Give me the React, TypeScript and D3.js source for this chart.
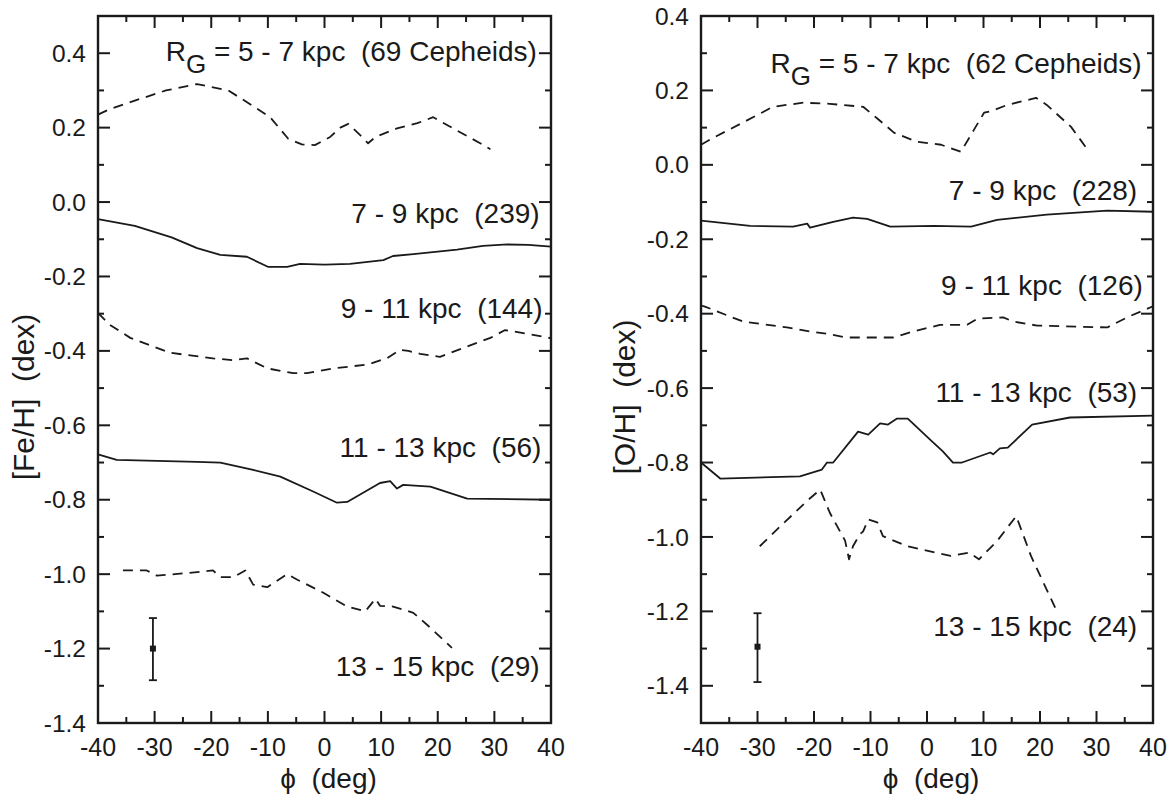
import React from 'react';
import * as d3 from 'd3';

// phi (deg) on x, abundance (dex) on y
const phiMajor = [-40, -30, -20, -10, 0, 10, 20, 30, 40];
const phiMinor = [-35, -25, -15, -5, 5, 15, 25, 35];
const dexMajor = [-1.4, -1.2, -1.0, -0.8, -0.6, -0.4, -0.2, 0.0, 0.2, 0.4];

// [Fe/H] panel
const fe_5_7: [number, number][] = [
  [-40, 0.235], [-37.9, 0.25], [-33, 0.275], [-28, 0.3], [-22.5, 0.317], [-17, 0.3], [-12.3, 0.255],
  [-9.6, 0.228], [-6.4, 0.17], [-4, 0.155], [-1.7, 0.153], [1, 0.175], [2.8, 0.2], [4.2, 0.21],
  [6.3, 0.18], [7.7, 0.158], [9, 0.175], [12.8, 0.198], [16.4, 0.212], [19.2, 0.228], [22.7, 0.198],
  [27.5, 0.158], [29.3, 0.142],
];
const fe_7_9: [number, number][] = [
  [-40, -0.046], [-33.5, -0.064], [-27, -0.095], [-22.5, -0.124], [-18.4, -0.142], [-13.7, -0.147],
  [-10, -0.174], [-6.6, -0.174], [-4.3, -0.166], [0, -0.168], [4.5, -0.166], [10.4, -0.156],
  [12.1, -0.145], [15.7, -0.14], [23.4, -0.128], [28, -0.118], [32.3, -0.114], [36, -0.115], [40, -0.12],
];
const fe_9_11: [number, number][] = [
  [-40, -0.298], [-37.9, -0.33], [-34.3, -0.365], [-27.3, -0.405], [-19.7, -0.42], [-16.1, -0.425],
  [-13.7, -0.42], [-10.1, -0.447], [-5.5, -0.46], [-3.1, -0.46], [1.5, -0.447], [7.5, -0.437],
  [11, -0.42], [13.4, -0.397], [14.8, -0.4], [16.9, -0.408], [20.4, -0.416], [24.5, -0.392],
  [29.3, -0.365], [31.9, -0.344], [35.1, -0.352], [40, -0.366],
];
const fe_11_13: [number, number][] = [
  [-40, -0.678], [-36.7, -0.693], [-22.5, -0.698], [-18.4, -0.7], [-12.6, -0.72], [-7.8, -0.738],
  [-2, -0.778], [2.2, -0.808], [4, -0.806], [9.8, -0.755], [11.6, -0.75], [12.8, -0.77],
  [13.9, -0.76], [18.7, -0.765], [25.2, -0.797], [40, -0.8],
];
const fe_13_15: [number, number][] = [
  [-35.6, -0.99], [-31.4, -0.99], [-29.6, -1.004], [-24.3, -0.997], [-19.7, -0.99], [-18.4, -1.008],
  [-16.1, -1.008], [-14, -0.99], [-12.6, -1.028], [-10.1, -1.035], [-6.6, -1.0], [-4.8, -1.015],
  [-0.2, -1.05], [4, -1.087], [7.2, -1.1], [9, -1.066], [9.8, -1.085], [12.1, -1.087],
  [15.7, -1.104], [18.7, -1.144], [22.5, -1.198],
];
const feError = { phi: -30.3, value: -1.2, lo: -1.285, hi: -1.118 };

// [O/H] panel
const oh_5_7: [number, number][] = [
  [-40, 0.054], [-37.9, 0.072], [-29, 0.142], [-27.3, 0.156], [-21.9, 0.167], [-17.2, 0.164],
  [-11.3, 0.156], [-8.9, 0.126], [-5.8, 0.086], [-1.8, 0.062], [2.5, 0.054], [6, 0.035],
  [8.3, 0.094], [10.1, 0.14], [11.5, 0.145], [14.2, 0.161], [19.3, 0.18], [21.2, 0.161],
  [25.5, 0.102], [28.7, 0.035],
];
const oh_7_9: [number, number][] = [
  [-40, -0.15], [-31.3, -0.164], [-23.7, -0.166], [-21.2, -0.158], [-20.7, -0.169], [-16.6, -0.153],
  [-13.1, -0.142], [-10.6, -0.145], [-6.5, -0.166], [1.2, -0.164], [7.8, -0.166], [12.4, -0.148],
  [21.2, -0.134], [31.9, -0.123], [40, -0.126],
];
const oh_9_11: [number, number][] = [
  [-40, -0.378], [-39.3, -0.381], [-32.6, -0.421], [-24.8, -0.437], [-20.7, -0.448], [-17.7, -0.454],
  [-14.2, -0.464], [-6, -0.464], [-2.5, -0.448], [2.3, -0.43], [7.1, -0.43], [9, -0.413],
  [13.5, -0.41], [15.2, -0.421], [19.5, -0.432], [31.9, -0.437], [35.4, -0.41], [40, -0.38],
];
const oh_11_13: [number, number][] = [
  [-40, -0.8], [-36.6, -0.843], [-22.5, -0.837], [-18.6, -0.819], [-17.7, -0.8], [-16.6, -0.8],
  [-12.2, -0.717], [-10.4, -0.725], [-8.3, -0.695], [-6.9, -0.698], [-5.3, -0.682], [-3.4, -0.682],
  [0.5, -0.738], [2.8, -0.77], [4.6, -0.8], [6.2, -0.8], [11.2, -0.773], [11.7, -0.778],
  [12.9, -0.762], [14.3, -0.76], [18.6, -0.698], [25.3, -0.679], [40, -0.674],
];
const oh_13_15: [number, number][] = [
  [-29.6, -1.025], [-26, -0.972], [-21, -0.9], [-18.9, -0.873], [-17.2, -0.935], [-14.5, -1.01],
  [-13.8, -1.06], [-13.1, -1.025], [-11.9, -0.993], [-11.3, -0.985], [-10.4, -0.953], [-8.8, -0.961],
  [-7.8, -0.998], [-3.5, -1.025], [4.2, -1.051], [7.4, -1.042], [9.2, -1.06], [12.4, -1.011],
  [15.8, -0.944], [18.4, -1.051], [22.8, -1.194],
];
const ohError = { phi: -30, value: -1.295, lo: -1.39, hi: -1.205 };

const font = '"Liberation Sans", Arial, Helvetica, sans-serif';
const sp = '\u00a0';

type Series = { data: [number, number][]; dashed: boolean };
type Label = { phi: number; y: number; text: string; title?: boolean };

function Panel(props: {
  left: number; right: number; top: number; bottom: number;
  yDomain: [number, number]; series: Series[]; labels: Label[];
  err: { phi: number; value: number; lo: number; hi: number };
  yTitle: string; yTitleX: number;
}) {
  const { left, right, top, bottom, yDomain, series, labels, err, yTitle, yTitleX } = props;
  const x = d3.scaleLinear().domain([-40, 40]).range([left, right]);
  const y = d3.scaleLinear().domain(yDomain).range([bottom, top]);
  const line = d3.line<[number, number]>().x(d => x(d[0])).y(d => y(d[1]));

  // minor y ticks every 0.1
  const yMinor = d3.range(Math.round(yDomain[0] * 10), Math.round(yDomain[1] * 10) + 1)
    .map(v => v / 10)
    .filter(v => !dexMajor.some(m => Math.abs(m - v) < 1e-6));

  const major = 12, minor = 6;
  return (
    <g>
      {series.map((s, i) => (
        <path key={i} d={line(s.data) || ''} fill="none" stroke="#1a1a1a" strokeWidth={1.8}
          strokeDasharray={s.dashed ? '10,7' : undefined} strokeLinejoin="round" />
      ))}
      {/* error bar */}
      <g stroke="#1a1a1a" strokeWidth={1.8}>
        <line x1={x(err.phi)} x2={x(err.phi)} y1={y(err.lo)} y2={y(err.hi)} />
        <line x1={x(err.phi) - 4} x2={x(err.phi) + 4} y1={y(err.lo)} y2={y(err.lo)} />
        <line x1={x(err.phi) - 4} x2={x(err.phi) + 4} y1={y(err.hi)} y2={y(err.hi)} />
      </g>
      <rect x={x(err.phi) - 3} y={y(err.value) - 3} width={6} height={6} fill="#1a1a1a" />

      {/* ticks on all four sides, pointing inward */}
      <g stroke="#1a1a1a" strokeWidth={2}>
        {phiMajor.map(t => (
          <g key={'xm' + t}>
            <line x1={x(t)} x2={x(t)} y1={bottom} y2={bottom - major} />
            <line x1={x(t)} x2={x(t)} y1={top} y2={top + major} />
          </g>
        ))}
        {phiMinor.map(t => (
          <g key={'xn' + t}>
            <line x1={x(t)} x2={x(t)} y1={bottom} y2={bottom - minor} />
            <line x1={x(t)} x2={x(t)} y1={top} y2={top + minor} />
          </g>
        ))}
        {dexMajor.map(t => (
          <g key={'ym' + t}>
            <line x1={left} x2={left + major} y1={y(t)} y2={y(t)} />
            <line x1={right} x2={right - major} y1={y(t)} y2={y(t)} />
          </g>
        ))}
        {yMinor.map(t => (
          <g key={'yn' + t}>
            <line x1={left} x2={left + minor} y1={y(t)} y2={y(t)} />
            <line x1={right} x2={right - minor} y1={y(t)} y2={y(t)} />
          </g>
        ))}
      </g>
      <rect x={left} y={top} width={right - left} height={bottom - top} fill="none" stroke="#1a1a1a" strokeWidth={2.4} />

      {/* tick labels */}
      <g fontFamily={font} fill="#1a1a1a">
        {phiMajor.map(t => (
          <text key={'xl' + t} x={x(t)} y={756} fontSize={25} textAnchor="middle">{d3.format('')(t).replace('−', '-')}</text>
        ))}
        {dexMajor.map(t => (
          <text key={'yl' + t} x={left - 12} y={y(t)} dy="0.35em" fontSize={24.5} textAnchor="end">{d3.format('.1f')(t).replace('−', '-')}</text>
        ))}
        <text x={(left + right) / 2 + 4} y={788} fontSize={28} textAnchor="middle">{'ϕ' + sp + sp + '(deg)'}</text>
        <text transform={`translate(${yTitleX},397) rotate(-90)`} fontSize={30} textAnchor="middle">{yTitle}</text>
      </g>

      {/* group labels */}
      <g fontFamily={font} fill="#1a1a1a" fontSize={28}>
        {labels.map((l, i) => l.title ? (
          <text key={i} x={x(l.phi)} y={y(l.y)} textAnchor="end">
            <tspan>R</tspan>
            <tspan dy={12} fontSize={26}>G</tspan>
            <tspan dy={-12}>{l.text}</tspan>
          </text>
        ) : (
          <text key={i} x={x(l.phi)} y={y(l.y)} textAnchor="end">{l.text}</text>
        ))}
      </g>
    </g>
  );
}

const lbl = (range: string, n: string) => range + sp + 'kpc' + sp + sp + '(' + n + ')';

export default function App() {
  return (
    <svg width={1174} height={798} style={{ position: 'absolute', left: 0, top: 0, background: '#fff' }}>
      <Panel left={98} right={551} top={16} bottom={723} yDomain={[-1.4, 0.5]}
        series={[
          { data: fe_5_7, dashed: true }, { data: fe_7_9, dashed: false }, { data: fe_9_11, dashed: true },
          { data: fe_11_13, dashed: false }, { data: fe_13_15, dashed: true },
        ]}
        labels={[
          { phi: 37.5, y: 0.379, text: sp + '= 5 - 7' + sp + 'kpc' + sp + sp + '(69 Cepheids)', title: true },
          { phi: 38, y: -0.056, text: lbl('7 - 9', '239') },
          { phi: 38.5, y: -0.311, text: lbl('9 - 11', '144') },
          { phi: 38.3, y: -0.685, text: lbl('11 - 13', '56') },
          { phi: 38, y: -1.275, text: lbl('13 - 15', '29') },
        ]}
        err={feError} yTitle={'[Fe/H]' + sp + sp + '(dex)'} yTitleX={34} />
      <Panel left={701} right={1153} top={16} bottom={723} yDomain={[-1.5, 0.4]}
        series={[
          { data: oh_5_7, dashed: true }, { data: oh_7_9, dashed: false }, { data: oh_9_11, dashed: true },
          { data: oh_11_13, dashed: false }, { data: oh_13_15, dashed: true },
        ]}
        labels={[
          { phi: 38, y: 0.247, text: sp + '= 5 - 7' + sp + 'kpc' + sp + sp + '(62 Cepheids)', title: true },
          { phi: 37.2, y: -0.094, text: lbl('7 - 9', '228') },
          { phi: 38.2, y: -0.349, text: lbl('9 - 11', '126') },
          { phi: 37.2, y: -0.636, text: lbl('11 - 13', '53') },
          { phi: 37.2, y: -1.267, text: lbl('13 - 15', '24') },
        ]}
        err={ohError} yTitle={'[O/H]' + sp + sp + '(dex)'} yTitleX={635} />
    </svg>
  );
}
